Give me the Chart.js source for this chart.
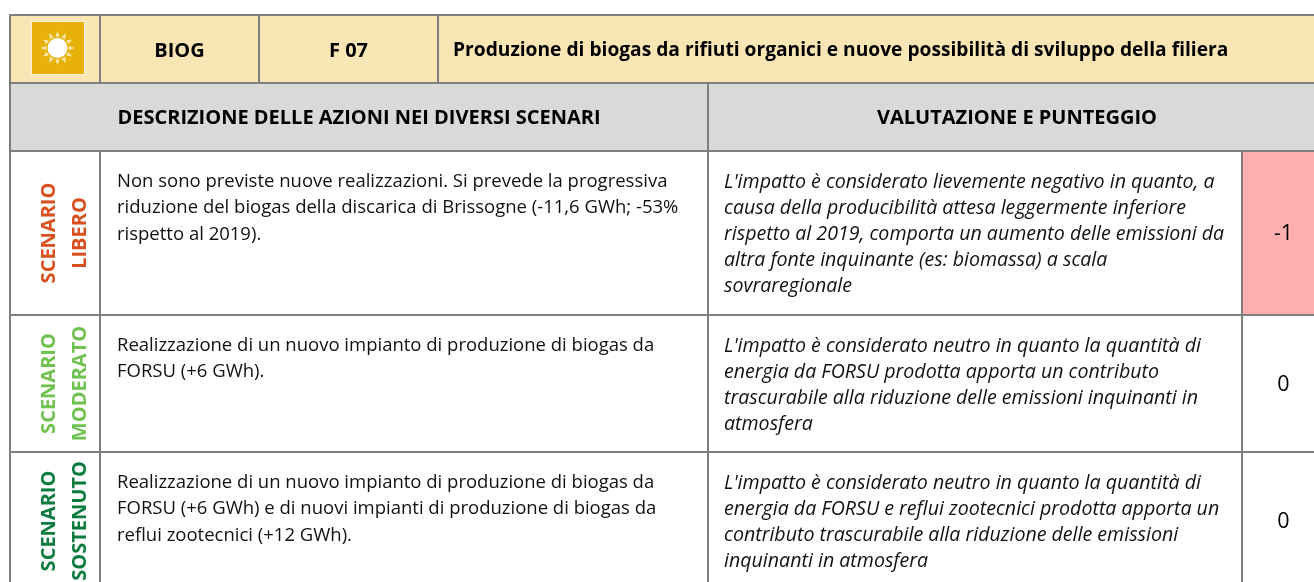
<!DOCTYPE html>
<html>
<head>
<meta charset="utf-8">
<title>BIOG F 07</title>
<script src="https://cdn.jsdelivr.net/npm/chart.js@4"></script>
<style>
  html, body { margin: 0; padding: 0; background: #fff; }
  #wrap { position: relative; width: 1314px; height: 582px; }
</style>
</head>
<body>
<div id="wrap"><canvas id="sheet"></canvas></div>
<script>
// ================= DATA =================
const headerLabels = ["BIOG", "F 07", "Produzione di biogas da rifiuti organici e nuove possibilità di sviluppo della filiera"];
const sectionLabels = ["DESCRIZIONE DELLE AZIONI NEI DIVERSI SCENARI", "VALUTAZIONE E PUNTEGGIO"];
const scenarioNames = [["SCENARIO", "LIBERO"], ["SCENARIO", "MODERATO"], ["SCENARIO", "SOSTENUTO"]];
const descriptions = [
  ["Non sono previste nuove realizzazioni. Si prevede la progressiva",
   "riduzione del biogas della discarica di Brissogne (-11,6 GWh; -53%",
   "rispetto al 2019)."],
  ["Realizzazione di un nuovo impianto di produzione di biogas da",
   "FORSU (+6 GWh)."],
  ["Realizzazione di un nuovo impianto di produzione di biogas da",
   "FORSU (+6 GWh) e di nuovi impianti di produzione di biogas da",
   "reflui zootecnici (+12 GWh)."]
];
const evaluations = [
  ["L'impatto è considerato lievemente negativo in quanto, a",
   "causa della producibilità attesa leggermente inferiore",
   "rispetto al 2019, comporta un aumento delle emissioni da",
   "altra fonte inquinante (es: biomassa) a scala",
   "sovraregionale"],
  ["L'impatto è considerato neutro in quanto la quantità di",
   "energia da FORSU prodotta apporta un contributo",
   "trascurabile alla riduzione delle emissioni inquinanti in",
   "atmosfera"],
  ["L'impatto è considerato neutro in quanto la quantità di",
   "energia da FORSU e reflui zootecnici prodotta apporta un",
   "contributo trascurabile alla riduzione delle emissioni",
   "inquinanti in atmosfera"]
];
const scores = [-1, 0, 0];

// ================= LAYOUT =================
const PAGE_W = 1314, PAGE_H = 582;
const LEFT = 10, ICON_R = 100, BIOG_R = 259, CODE_R = 438, MID = 708, SCORE_L = 1242, RIGHT = 1325;
const TOP = 15, HEAD_B = 83, SECT_B = 151;
const rowBottoms = [315, 452, 590];
const LINE_H = 26.2;
const FONT = "'Open Sans'";

const GRID = "#7f7f7f";
const BEIGE = "#fae5b4";
const GREY = "#d9d9d9";
const PINK = "#ffafaf";
const scenarioColors = ["#d9501e", "#6fc24f", "#0a7d3e"];

function cellBand(edges, y0, y1, colors, topLine, bottomLine) {
  const n = edges.length - 1;
  const cells = [];
  for (let i = 0; i < n; i++) cells.push({ x: [edges[i], edges[i + 1]], y: (y0 + y1) / 2 });
  return {
    data: cells,
    stack: "sheet",
    barThickness: y1 - y0,
    backgroundColor: colors,
    borderColor: GRID,
    borderWidth: cells.map((c, i) => ({
      top: topLine ? 2 : 0,
      left: i === 0 ? 2 : 0,
      right: 2,
      bottom: bottomLine ? 2 : 0
    })),
    borderSkipped: false,
    inflateAmount: 0
  };
}

const scoreColor = s => (s < 0 ? PINK : "#ffffff");

const datasets = [
  cellBand([LEFT - 1, ICON_R + 1, BIOG_R + 1, CODE_R + 1, RIGHT], TOP - 1, HEAD_B + 1, BEIGE, true, true),
  cellBand([LEFT - 1, MID + 1, RIGHT], HEAD_B + 1, SECT_B + 1, GREY, false, true)
];
scores.forEach((s, i) => {
  const y0 = (i === 0 ? SECT_B : rowBottoms[i - 1]) + 1;
  datasets.push(cellBand([LEFT - 1, ICON_R + 1, MID + 1, SCORE_L + 1, RIGHT], y0, rowBottoms[i] + 1,
    ["#ffffff", "#ffffff", "#ffffff", scoreColor(s)], false, i < 2));
});

// ================= TEXT AND ICON =================
function put(ctx, text, x, y, font, color, align) {
  ctx.font = font;
  ctx.fillStyle = color;
  ctx.textAlign = align || "left";
  ctx.textBaseline = "middle";
  ctx.fillText(text, x, y);
}

function drawSun(ctx, sx, sy) {
  const cx = sx(57.5), cy = sy(48);
  ctx.fillStyle = "#fdf3d8";
  ctx.fillRect(sx(31), sy(21), 54, 54);
  ctx.fillStyle = "#e7b109";
  ctx.fillRect(sx(32), sy(22), 52, 52);
  ctx.fillStyle = "#fbe7a6";
  for (let i = 0; i < 12; i++) {
    const a = i * Math.PI / 6;
    ctx.beginPath();
    ctx.moveTo(cx + Math.cos(a) * 17, cy + Math.sin(a) * 17);
    ctx.lineTo(cx + Math.cos(a + 0.2) * 11.5, cy + Math.sin(a + 0.2) * 11.5);
    ctx.lineTo(cx + Math.cos(a - 0.2) * 11.5, cy + Math.sin(a - 0.2) * 11.5);
    ctx.closePath();
    ctx.fill();
  }
  ctx.fillStyle = "#ffffff";
  ctx.beginPath();
  ctx.arc(cx, cy, 10, 0, Math.PI * 2);
  ctx.fill();
}

const sheetText = {
  id: "sheetText",
  afterDatasetsDraw(chart) {
    const ctx = chart.ctx;
    const sx = v => chart.scales.x.getPixelForValue(v);
    const sy = v => chart.scales.y.getPixelForValue(v);
    ctx.save();
    drawSun(ctx, sx, sy);

    const caps = `bold 20px ${FONT}`;
    const title = `bold 19.2px ${FONT}`;
    const body = `18.5px ${FONT}`;
    const ital = `italic 19.6px ${FONT}`;
    const headY = (TOP + HEAD_B) / 2 + 1;
    put(ctx, headerLabels[0], sx((ICON_R + BIOG_R) / 2), sy(headY + 1), caps, "#000", "center");
    put(ctx, headerLabels[1], sx((BIOG_R + CODE_R) / 2), sy(headY + 1), caps, "#000", "center");
    put(ctx, headerLabels[2], sx(453), sy(headY + 1), title, "#000");
    const sectY = (HEAD_B + SECT_B) / 2 + 1;
    put(ctx, sectionLabels[0], sx((LEFT + MID) / 2), sy(sectY), caps, "#000", "center");
    put(ctx, sectionLabels[1], sx((MID + RIGHT) / 2 + 0.5), sy(sectY), caps, "#000", "center");

    scores.forEach((s, i) => {
      const y0 = i === 0 ? SECT_B : rowBottoms[i - 1];
      const y1 = rowBottoms[i];
      const mid = (y0 + y1) / 2;
      // rotated scenario name, two columns of text
      scenarioNames[i].forEach((t, k) => {
        ctx.save();
        ctx.translate(sx(49.5 + k * 30.5), sy(mid));
        ctx.rotate(-Math.PI / 2);
        put(ctx, t, 0, 0, caps, scenarioColors[i], "center");
        ctx.restore();
      });
      descriptions[i].forEach((t, k) => put(ctx, t, sx(117), sy(y0 + 31 + k * LINE_H), body, "#111"));
      evaluations[i].forEach((t, k) => put(ctx, t, sx(724), sy(y0 + 31 + k * LINE_H), ital, "#111"));
      put(ctx, String(s), sx((SCORE_L + RIGHT) / 2), sy(mid + 1), `21.5px ${FONT}`, "#000", "center");
    });
    ctx.restore();
  }
};

// ================= CHART =================
const canvas = document.getElementById("sheet");
canvas.width = PAGE_W;
canvas.height = PAGE_H;

new Chart(canvas, {
  type: "bar",
  data: { datasets },
  plugins: [sheetText],
  options: {
    indexAxis: "y",
    responsive: false,
    animation: false,
    layout: { padding: 0 },
    plugins: { legend: { display: false }, tooltip: { enabled: false }, title: { display: false } },
    scales: {
      x: { type: "linear", min: 0, max: PAGE_W, display: false, stacked: false },
      y: { type: "linear", min: 0, max: PAGE_H, reverse: true, display: false, offset: false }
    }
  }
});
</script>
</body>
</html>
